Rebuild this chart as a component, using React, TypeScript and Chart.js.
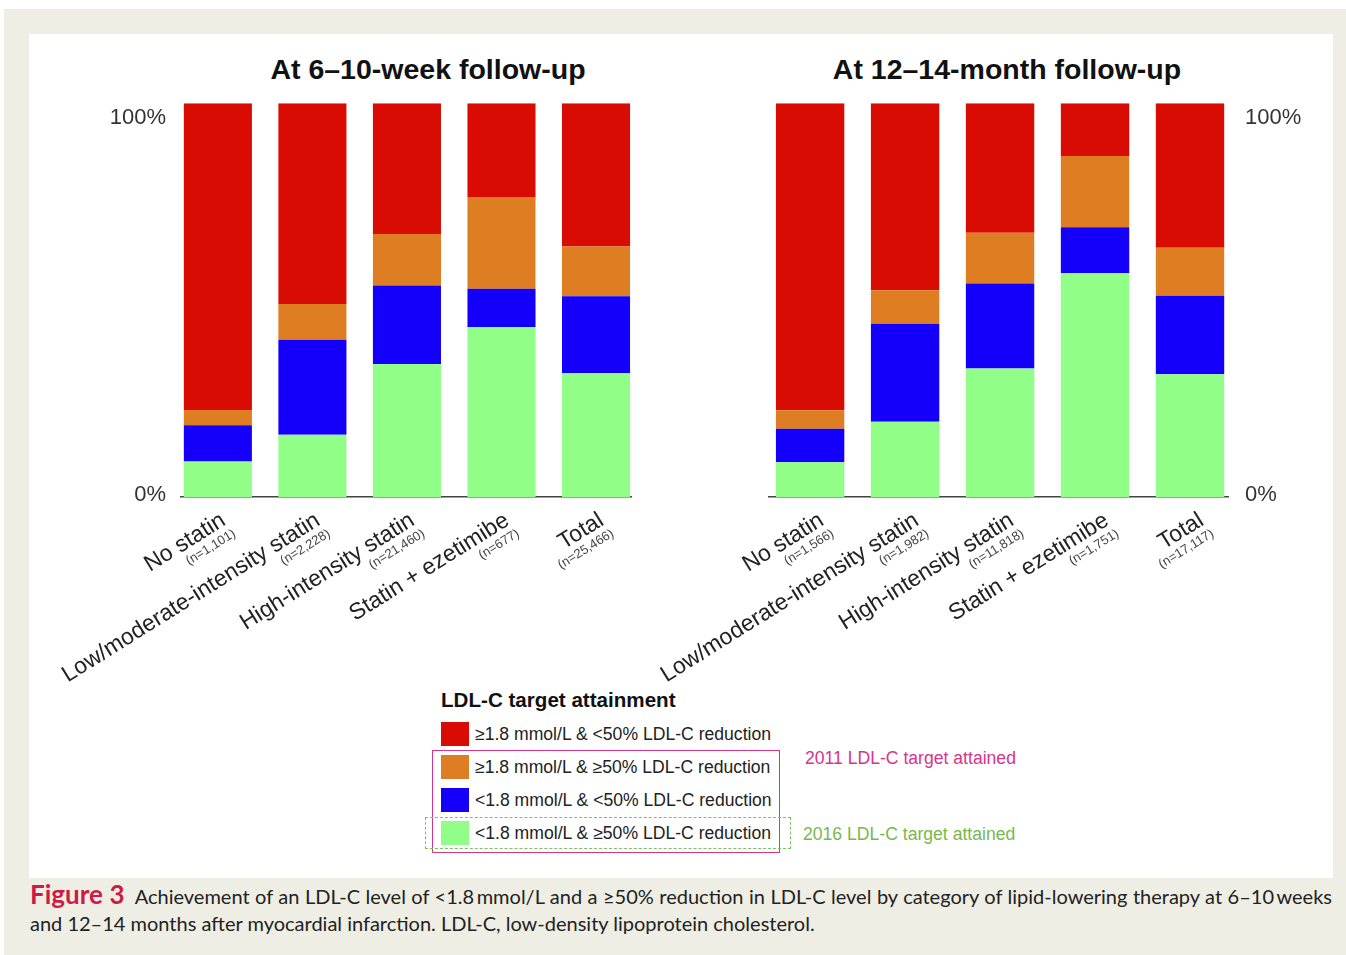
import React, { useEffect, useRef } from 'react';
import { Chart, registerables } from 'chart.js';

Chart.register(...registerables);

// ---------- data ----------
const categories = ['No statin', 'Low/moderate-intensity statin', 'High-intensity statin', 'Statin + ezetimibe', 'Total'];
const nLeft = ['(n=1,101)', '(n=2,228)', '(n=21,460)', '(n=677)', '(n=25,466)'];
const nRight = ['(n=1,566)', '(n=1,982)', '(n=11,818)', '(n=1,751)', '(n=17,117)'];

const seriesNames = [
  '<1.8 mmol/L & \u226550% LDL-C reduction',
  '<1.8 mmol/L & <50% LDL-C reduction',
  '\u22651.8 mmol/L & \u226550% LDL-C reduction',
  '\u22651.8 mmol/L & <50% LDL-C reduction',
];
const seriesColors = ['#91fe87', '#1400fa', '#df7d22', '#d80c02'];

// 6–10 weeks (percent of patients)
const greenLeft = [9.0, 15.8, 33.8, 43.2, 31.4];
const blueLeft = [9.2, 24.1, 19.9, 9.7, 19.6];
const orangeLeft = [3.9, 9.1, 13.1, 23.3, 12.6];
const redLeft = [77.9, 51.0, 33.2, 23.8, 36.4];

// 12–14 months (percent of patients)
const greenRight = [8.8, 19.1, 32.6, 56.8, 31.2];
const blueRight = [8.5, 24.9, 21.6, 11.7, 19.9];
const orangeRight = [4.7, 8.5, 12.9, 18.1, 12.2];
const redRight = [78.0, 47.5, 32.9, 13.4, 36.7];

const yTickLabels = ['0%', '100%'];

const titleLeft = 'At 6\u201310-week follow-up';
const titleRight = 'At 12\u201314-month follow-up';
const legendTitle = 'LDL-C target attainment';
const legendOrder = [3, 2, 1, 0];
const note2011 = '2011 LDL-C target attained';
const note2016 = '2016 LDL-C target attained';
const captionLabel = 'Figure 3';
const captionLine1 = 'Achievement of an LDL-C level of <1.8\u2009mmol/L and a \u226550% reduction in LDL-C level by category of lipid-lowering therapy at 6\u201310\u2009weeks';
const captionLine2 = 'and 12\u201314 months after myocardial infarction. LDL-C, low-density lipoprotein cholesterol.';

const FONT = '"Liberation Sans", Arial, Helvetica, sans-serif';

const catLabelPlugin = {
  id: 'catLabels',
  afterDraw(chart: any, _args: any, opts: any) {
    const { ctx } = chart;
    const xs = chart.scales.x;
    const axisY = xs.top;
    const ang = (-32 * Math.PI) / 180;
    opts.names.forEach((name: string, i: number) => {
      const cx = xs.getPixelForValue(i);
      ctx.save();
      ctx.translate(cx + opts.dx, axisY + 27);
      ctx.rotate(ang);
      ctx.textAlign = 'right';
      ctx.textBaseline = 'alphabetic';
      ctx.fillStyle = '#222';
      ctx.font = '23px ' + FONT;
      ctx.fillText(name, 0, 0);
      ctx.fillStyle = '#444';
      ctx.font = '13px ' + FONT;
      ctx.fillText(opts.ns[i], 2, 15);
      ctx.restore();
    });
  },
};

interface PanelProps {
  series: number[][];
  ns: string[];
  side: 'left' | 'right';
  width: number;
  height: number;
  xMin: number;
  xMax: number;
  yAxisWidth: number;
  xAxisHeight: number;
  padLeft: number;
  padRight: number;
  tickPad: number;
  labelDx: number;
  style: React.CSSProperties;
}

function Panel(p: PanelProps) {
  const ref = useRef<HTMLCanvasElement | null>(null);
  useEffect(() => {
    if (!ref.current) return;
    const chart = new Chart(ref.current, {
      type: 'bar',
      data: {
        datasets: p.series.map((vals, k) => ({
          label: seriesNames[k],
          data: vals.map((v, i) => ({ x: i, y: v })),
          backgroundColor: seriesColors[k],
          borderWidth: 0,
          categoryPercentage: 0.8,
          barPercentage: 0.9,
        })),
      },
      options: {
        responsive: false,
        animation: false,
        events: [],
        layout: { padding: { left: p.padLeft, right: p.padRight, top: 0, bottom: 0 } },
        plugins: {
          legend: { display: false },
          tooltip: { enabled: false },
          title: { display: false },
          catLabels: { names: categories, ns: p.ns, dx: p.labelDx },
        } as any,
        scales: {
          x: {
            type: 'linear',
            min: p.xMin,
            max: p.xMax,
            stacked: true,
            offset: false,
            grid: { display: false, drawTicks: false },
            border: { display: true, color: '#444', width: 1.5 },
            ticks: { display: false },
            afterBuildTicks: (s: any) => {
              s.ticks = categories.map((_, i) => ({ value: i }));
            },
            afterFit: (s: any) => {
              s.height = p.xAxisHeight;
            },
          },
          y: {
            type: 'linear',
            position: p.side,
            min: 0,
            max: 100,
            stacked: true,
            grid: { display: false, drawTicks: false },
            border: { display: false },
            ticks: {
              color: '#333',
              padding: p.tickPad,
              font: { family: FONT, size: 22 },
              callback: (v: any) => (Number(v) > 50 ? yTickLabels[1] : yTickLabels[0]),
            },
            afterBuildTicks: (s: any) => {
              s.ticks = [{ value: 0.5 }, { value: 96.2 }];
            },
            afterFit: (s: any) => {
              s.width = p.yAxisWidth;
            },
          },
        } as any,
      },
      plugins: [catLabelPlugin as any],
    });
    return () => chart.destroy();
  }, []);
  return <canvas ref={ref} width={p.width} height={p.height} style={{ position: 'absolute', ...p.style }} />;
}

export default function App() {
  const abs = (s: React.CSSProperties): React.CSSProperties => ({ position: 'absolute', ...s });
  const rowTops = [722, 755, 788, 821];
  return (
    <div style={abs({ left: 0, top: 0, width: 1346, height: 955, background: '#fff', overflow: 'hidden', fontFamily: FONT })}>
      <div style={abs({ left: 4, top: 9, width: 1342, height: 946, background: '#efeee5' })} />
      <div style={abs({ left: 29, top: 34, width: 1304, height: 844, background: '#fff' })} />

      <div style={abs({ left: 128, top: 53, width: 600, textAlign: 'center', fontWeight: 'bold', fontSize: 28.5, lineHeight: '32px', color: '#111' })}>{titleLeft}</div>
      <div style={abs({ left: 707, top: 53, width: 600, textAlign: 'center', fontWeight: 'bold', fontSize: 28.5, lineHeight: '32px', color: '#111' })}>{titleRight}</div>

      <Panel
        series={[greenLeft, blueLeft, orangeLeft, redLeft]}
        ns={nLeft}
        side="left"
        width={625}
        height={612}
        xMin={-0.39}
        xMax={4.37}
        yAxisWidth={151}
        xAxisHeight={190}
        padLeft={0}
        padRight={24}
        tickPad={15}
        labelDx={9}
        style={{ left: 30, top: 75 }}
      />
      <Panel
        series={[greenRight, blueRight, orangeRight, redRight]}
        ns={nRight}
        side="right"
        width={678}
        height={612}
        xMin={-0.433}
        xMax={4.4}
        yAxisWidth={105}
        xAxisHeight={188}
        padLeft={114}
        padRight={0}
        tickPad={17}
        labelDx={15}
        style={{ left: 655, top: 73 }}
      />

      <div style={abs({ left: 441, top: 688, fontWeight: 'bold', fontSize: 20.6, lineHeight: '24px', color: '#111', whiteSpace: 'nowrap' })}>{legendTitle}</div>
      {legendOrder.map((k, r) => (
        <React.Fragment key={k}>
          <div style={abs({ left: 441, top: rowTops[r], width: 28, height: 24, background: seriesColors[k] })} />
          <div style={abs({ left: 475, top: rowTops[r], height: 24, lineHeight: '24px', fontSize: 17.6, color: '#222', whiteSpace: 'nowrap' })}>{seriesNames[k]}</div>
        </React.Fragment>
      ))}
      <div style={abs({ left: 432, top: 750, width: 346, height: 101, border: '1.5px solid #d6358b' })} />
      <div style={abs({ left: 425, top: 817, width: 364, height: 30, border: '1.5px dashed #7dc35d' })} />
      <div style={abs({ left: 805, top: 746, lineHeight: '24px', fontSize: 17.6, color: '#d6358b', whiteSpace: 'nowrap' })}>{note2011}</div>
      <div style={abs({ left: 803, top: 822, lineHeight: '24px', fontSize: 17.6, color: '#78b84c', whiteSpace: 'nowrap' })}>{note2016}</div>

      <div style={abs({ left: 30, top: 880, width: 1302, fontFamily: 'Lato, "Open Sans", sans-serif', fontSize: 20, lineHeight: '29px', color: '#222', whiteSpace: 'nowrap', textAlign: 'justify', textAlignLast: 'justify' as any })}>
        <span style={{ fontWeight: 'bold', color: '#cf1a47', fontSize: 26 }}>{captionLabel}</span>
        {'\u2002' + captionLine1}
      </div>
      <div style={abs({ left: 30, top: 909, fontFamily: 'Lato, "Open Sans", sans-serif', fontSize: 20, lineHeight: '29px', color: '#222', whiteSpace: 'nowrap' })}>
        {captionLine2}
      </div>
    </div>
  );
}
